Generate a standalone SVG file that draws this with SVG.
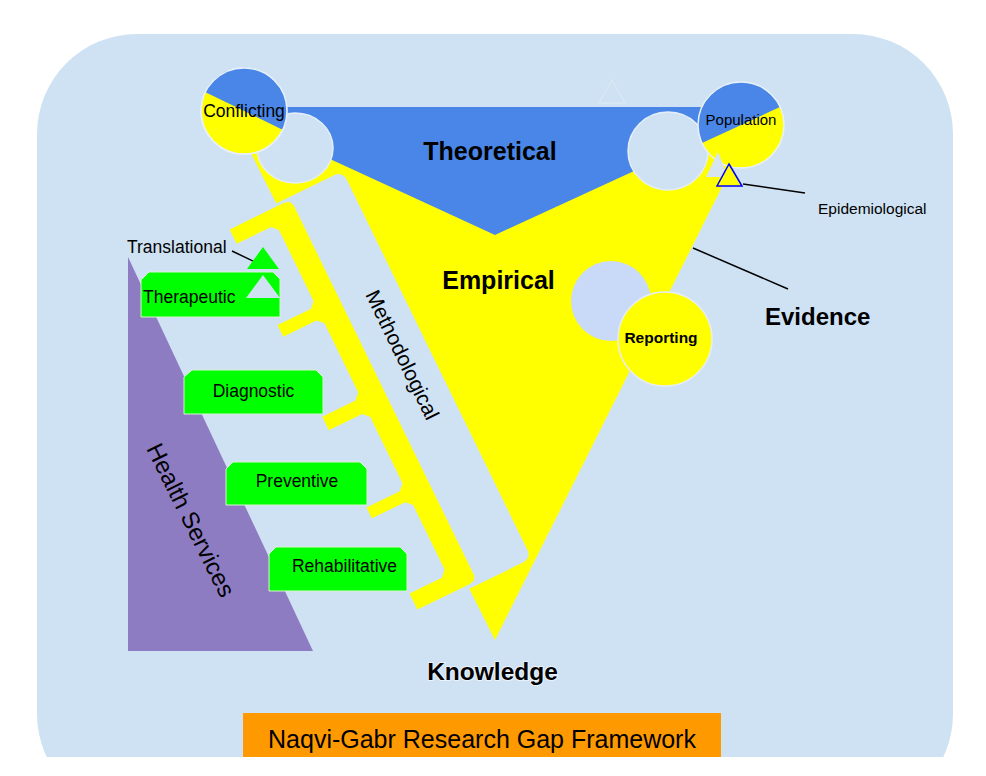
<svg xmlns="http://www.w3.org/2000/svg" width="986" height="776" viewBox="0 0 986 776">
<style>
text{font-family:"Liberation Sans",Arial,Helvetica,sans-serif;fill:#000}
.bg{fill:#CFE2F3}
.lbl{font-size:17.5px}
.big{font-size:25px;font-weight:bold}
.green{fill:#00FF00;stroke:#D9F2D0;stroke-width:1}
.halo{stroke:#E8F1FA;stroke-width:1.5}
</style>
<rect x="0" y="0" width="986" height="776" fill="#FFFFFF"/>
<rect id="background" class="bg" x="37" y="34" width="916" height="780" rx="100" ry="100"/>

<g id="health-services">
  <polygon points="128,257 313,651 128,651" fill="#8E7CC3"/>
  <text transform="translate(183.5,523.7) rotate(63.5)" text-anchor="middle" font-size="24">Health Services</text>
</g>

<g id="empirical">
  <polygon points="228,107 762,107 495,640" fill="#FFFF00"/>
</g>
<g id="theoretical">
  <polygon points="217,107 773,107 495,235" fill="#4A86E8"/>
  <polygon points="612,80 625,103 599,103" fill="none" stroke="#D9E7F4" stroke-width="1.5"/>
</g>

<g id="gaps">
  <ellipse cx="295" cy="148" rx="38" ry="35" class="bg" stroke="#E4EEF8" stroke-width="1.5"/>
  <ellipse cx="668" cy="151" rx="40" ry="39" class="bg" stroke="#E4EEF8" stroke-width="1.5"/>
</g>

<g id="methodological" transform="translate(400,380) rotate(-26)">
  <rect x="-60" y="-213" width="100" height="431" rx="9" ry="9" class="bg"/>
  <path d="M-87,-210 L-27,-210 Q-19,-210 -19,-202 L-19,206 Q-19,214 -27,214 L-85,214 L-85,196 L-49,196 L-43,190 L-43,118 L-49,112 L-86,112 L-86,100 L-49,100 L-43,94 L-43,20 L-49,14 L-86,14 L-86,-1 L-49,-1 L-43,-7 L-43,-84 L-49,-90 L-86,-90 L-86,-103 L-49,-103 L-43,-109 L-43,-188 L-49,-194 L-87,-194 Z" fill="#FFFF00"/>
  <text transform="rotate(90)" x="-21.6" y="-6" text-anchor="middle" font-size="21">Methodological</text>
</g>

<g id="conflicting">
  <circle cx="244" cy="111" r="43" fill="#FFFF00" class="halo"/>
  <path d="M205,92 A43,43 0 0 1 283,130 Z" fill="#4A86E8"/>
  <circle cx="244" cy="111" r="43" fill="none" class="halo"/>
  <text x="244" y="117" text-anchor="middle" font-size="17.5">Conflicting</text>
</g>

<g id="population">
  <circle cx="741" cy="125" r="43" fill="#FFFF00"/>
  <path d="M702,143 A43,43 0 0 1 723,86 A43,43 0 0 1 780,107 Z" fill="#4A86E8"/>
  <circle cx="741" cy="125" r="43" fill="none" class="halo"/>
  <text x="741" y="125" text-anchor="middle" font-size="15">Population</text>
</g>

<g id="epidemiological">
  <polygon points="718,152 728,177 706,177" fill="#D6E4F2"/>
  <polygon points="729,164 742,186 717,186" fill="#FFFF00" stroke="#0000FF" stroke-width="1.5"/>
  <text x="818" y="214" font-size="15.5">Epidemiological</text>
</g>

<g id="reporting">
  <circle cx="611" cy="301" r="40" fill="#C9DAF8"/>
  <circle cx="665" cy="339" r="47" fill="#FFFF00" stroke="#E6EEF8" stroke-width="1.5"/>
  <text x="661" y="343" text-anchor="middle" font-size="15.5" font-weight="bold">Reporting</text>
</g>

<g id="connectors" stroke="#000" stroke-width="1.5" fill="none">
  <line x1="743" y1="184" x2="805" y2="193"/>
  <line x1="693" y1="248" x2="788" y2="289"/>
  <line x1="232" y1="251" x2="257" y2="263"/>
</g>

<g id="translational">
  <polygon points="263,247 279,269 247,269" fill="#00FF00"/>
  <text x="127" y="253" class="lbl">Translational</text>
</g>

<g id="therapeutic">
  <polygon points="149,272 273,272 280,279 280,317 141,317 141,280" class="green"/>
  <polygon points="263,275 280,298 246,298" fill="#CFE2F3"/>
  <text x="143" y="303" class="lbl">Therapeutic</text>
</g>

<g id="diagnostic">
  <polygon points="192,370 316,370 323,377 323,414 184,414 184,377" class="green"/>
  <text x="253.5" y="397" text-anchor="middle" class="lbl">Diagnostic</text>
</g>

<g id="preventive">
  <polygon points="233,462 360,462 367,469 367,505 226,505 226,469" class="green"/>
  <text x="297" y="487" text-anchor="middle" class="lbl">Preventive</text>
</g>

<g id="rehabilitative">
  <polygon points="276,547 400,547 407,554 407,591 269,591 269,554" class="green"/>
  <text x="344.5" y="572" text-anchor="middle" class="lbl">Rehabilitative</text>
</g>

<g id="labels">
  <text x="490" y="160" text-anchor="middle" class="big">Theoretical</text>
  <text x="498.5" y="289" text-anchor="middle" class="big">Empirical</text>
  <text x="765" y="325" font-size="24" font-weight="bold">Evidence</text>
  <text x="492.5" y="680" text-anchor="middle" font-size="24.5" font-weight="bold" stroke="#EAF2FB" stroke-width="2" paint-order="stroke">Knowledge</text>
</g>

<g id="title">
  <rect x="243" y="713" width="478" height="60" fill="#FF9900"/>
  <text x="482" y="748" text-anchor="middle" font-size="25">Naqvi-Gabr Research Gap Framework</text>
</g>

<rect x="0" y="757" width="986" height="19" fill="#FFFFFF"/>
</svg>
